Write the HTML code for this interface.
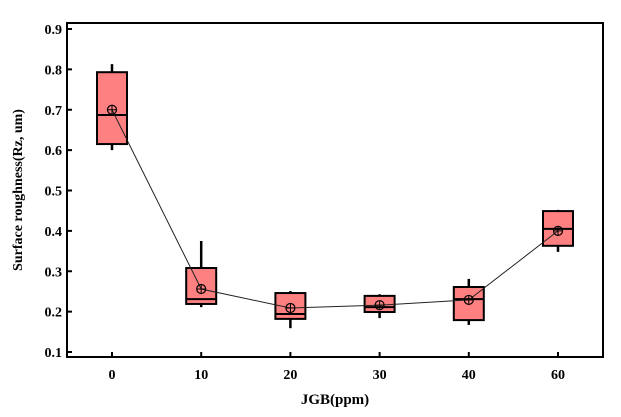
<!DOCTYPE html>
<html><head><meta charset="utf-8"><style>
body{margin:0;background:#fff;}
text{font-family:"Liberation Serif",serif;font-weight:bold;fill:#000;}
</style></head><body>
<svg id="chart" width="621" height="412" viewBox="0 0 621 412" xmlns="http://www.w3.org/2000/svg"></svg>
<script>
const categories=["0","10","20","30","40","60"];
const whiskerHigh=[0.813,0.375,0.251,0.243,0.281,0.452];
const q3=[0.793,0.308,0.246,0.239,0.261,0.449];
const median=[0.687,0.231,0.194,0.211,0.231,0.405];
const q1=[0.615,0.219,0.182,0.199,0.179,0.363];
const whiskerLow=[0.600,0.211,0.159,0.184,0.167,0.348];
const means=[0.700,0.256,0.209,0.216,0.229,0.400];
const yTicks=[0.1,0.2,0.3,0.4,0.5,0.6,0.7,0.8,0.9];

const svg=document.getElementById('chart');
const NS='http://www.w3.org/2000/svg';
const L=67,R=603,T=23,B=357;
const y=v=>352-(v-0.1)*403.75;
const x=i=>112+i*89.2;
function mk(tag,attrs,parent){const e=document.createElementNS(NS,tag);for(const k in attrs)e.setAttribute(k,attrs[k]);(parent||svg).appendChild(e);return e;}

const frame=mk('rect',{x:L,y:T,width:R-L,height:B-T,fill:'none',stroke:'#000','stroke-width':2});



yTicks.forEach(t=>{
  const tk=mk('line',{x1:L,x2:L+5,y1:y(t),y2:y(t),stroke:'#000','stroke-width':2});
  
  
  const lb=mk('text',{x:L-5,y:y(t)+5,'text-anchor':'end','font-size':14});
  lb.textContent=t.toFixed(1);
  
  
});
categories.forEach((c,i)=>{
  const tk=mk('line',{x1:x(i),x2:x(i),y1:B,y2:B-5,stroke:'#000','stroke-width':2});
  
  
  const lb=mk('text',{x:x(i),y:B+22,'text-anchor':'middle','font-size':14});
  lb.textContent=c;
  
  
});

const g=mk('g',{});


const hw=15;
categories.forEach((c,i)=>{
  const w=mk('line',{x1:x(i),x2:x(i),y1:y(whiskerHigh[i]),y2:y(whiskerLow[i]),stroke:'#000','stroke-width':2.5},g);
  
  
  const b=mk('rect',{x:x(i)-hw,y:y(q3[i]),width:2*hw,height:y(q1[i])-y(q3[i]),fill:'#ff8080',stroke:'#000','stroke-width':2},g);
  
  
  const m=mk('line',{x1:x(i)-hw,x2:x(i)+hw,y1:y(median[i]),y2:y(median[i]),stroke:'#000','stroke-width':2},g);
  
  
});
const pts=means.map((v,i)=>x(i)+','+y(v)).join(' ');
const ml=mk('polyline',{points:pts,fill:'none',stroke:'#222','stroke-width':1});


means.forEach((v,i)=>{
  const mg=mk('g',{});
  
  
  mk('circle',{cx:x(i),cy:y(v),r:4.5,fill:'none',stroke:'#000','stroke-width':1.2},mg);
  mk('line',{x1:x(i)-4.5,x2:x(i)+4.5,y1:y(v),y2:y(v),stroke:'#000','stroke-width':1},mg);
  mk('line',{x1:x(i),x2:x(i),y1:y(v)-4.5,y2:y(v)+4.5,stroke:'#000','stroke-width':1},mg);
});

const xt=mk('text',{x:(L+R)/2,y:404,'text-anchor':'middle','font-size':15});
xt.textContent='JGB(ppm)';


const yt=mk('text',{x:0,y:0,'text-anchor':'middle','font-size':14,transform:'translate(22,190) rotate(-90)'});
yt.textContent='Surface roughness(Rz, um)';


</script>
</body></html>
